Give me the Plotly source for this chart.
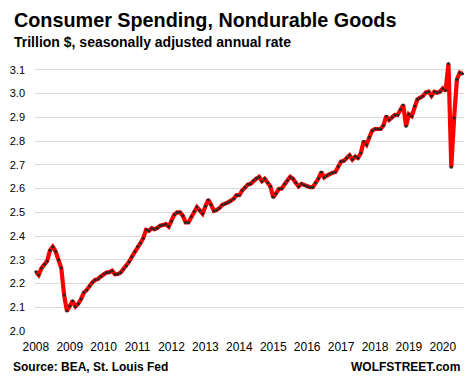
import pandas as pd
import plotly.graph_objects as go

# Monthly values, trillion $ (SAAR), Jan 2008 - Aug 2020
v2008 = [2.250, 2.236, 2.265, 2.280, 2.295, 2.339, 2.355, 2.335, 2.300, 2.265, 2.152, 2.084]
v2009 = [2.105, 2.127, 2.103, 2.115, 2.135, 2.162, 2.173, 2.190, 2.205, 2.215, 2.219, 2.230]
v2010 = [2.240, 2.246, 2.248, 2.254, 2.239, 2.240, 2.246, 2.260, 2.274, 2.292, 2.313, 2.335]
v2011 = [2.356, 2.370, 2.391, 2.426, 2.422, 2.433, 2.429, 2.434, 2.444, 2.447, 2.450, 2.440]
v2012 = [2.463, 2.490, 2.500, 2.500, 2.486, 2.457, 2.457, 2.482, 2.503, 2.522, 2.508, 2.494]
v2013 = [2.525, 2.553, 2.532, 2.506, 2.510, 2.518, 2.532, 2.536, 2.542, 2.549, 2.557, 2.572]
v2014 = [2.572, 2.592, 2.605, 2.617, 2.620, 2.634, 2.642, 2.649, 2.631, 2.641, 2.624, 2.609]
v2015 = [2.563, 2.578, 2.598, 2.600, 2.620, 2.634, 2.649, 2.641, 2.624, 2.609, 2.620, 2.614]
v2016 = [2.609, 2.606, 2.606, 2.624, 2.642, 2.670, 2.647, 2.655, 2.662, 2.667, 2.670, 2.693]
v2017 = [2.714, 2.717, 2.729, 2.740, 2.722, 2.735, 2.729, 2.750, 2.799, 2.785, 2.816, 2.844]
v2018 = [2.851, 2.851, 2.851, 2.866, 2.905, 2.889, 2.899, 2.910, 2.910, 2.934, 2.952, 2.863]
v2019 = [2.913, 2.905, 2.948, 2.976, 2.983, 2.990, 3.005, 3.008, 2.990, 3.008, 3.004, 3.008]
v2020 = [3.022, 3.013, 3.127, 2.690, 2.897, 3.060, 3.088, 3.084]

values = (v2008 + v2009 + v2010 + v2011 + v2012 + v2013 + v2014 +
          v2015 + v2016 + v2017 + v2018 + v2019 + v2020)
months = [d.strftime("%Y-%m") for d in pd.date_range("2008-01-01", periods=len(values), freq="MS")]

year_ticks = [str(y) for y in range(2008, 2021)]
y_ticks = [2.0, 2.1, 2.2, 2.3, 2.4, 2.5, 2.6, 2.7, 2.8, 2.9, 3.0, 3.1]

FONT = "Liberation Sans, Arial, sans-serif"

fig = go.Figure()
fig.add_trace(go.Scatter(
    x=months, y=values, mode="lines+markers",
    line=dict(color="#ff0000", width=4.2),
    marker=dict(color="#262626", size=3),
    cliponaxis=False, hoverinfo="x+y",
))

# page body has an 8px default margin, so the figure is 8px smaller than the window
fig.update_layout(
    width=465, height=372,
    margin=dict(l=27, r=9, t=50, b=49),
    paper_bgcolor="white", plot_bgcolor="white",
    showlegend=False,
    font=dict(family=FONT, color="#000000", size=12),
    xaxis=dict(
        type="category",
        range=[-0.3, len(values) - 0.5],
        tickmode="array",
        tickvals=[f"{y}-01" for y in year_ticks],
        ticktext=year_ticks,
        showgrid=False, zeroline=False, showline=False,
        ticks="outside", ticklen=5, tickcolor="rgba(0,0,0,0)",
        tickfont=dict(size=12, family=FONT, color="#000000"),
        automargin=False,
    ),
    yaxis=dict(
        range=[2.0, 3.15],
        tickmode="array",
        tickvals=y_ticks,
        ticktext=[f"{t:.1f}" for t in y_ticks],
        showgrid=True, gridcolor="#d9d9d9", gridwidth=1,
        zeroline=False, showline=False,
        ticklabelstandoff=9,
        tickfont=dict(size=11, family=FONT, color="#000000"),
        automargin=False,
    ),
    annotations=[
        dict(text="<b>Consumer Spending, Nondurable Goods</b>", xref="paper", yref="paper",
             x=-0.054, y=1.141, xanchor="left", yanchor="middle", showarrow=False,
             font=dict(size=19.8, family=FONT, color="#000000")),
        dict(text="<b>Trillion $, seasonally adjusted annual rate</b>", xref="paper", yref="paper",
             x=-0.054, y=1.057, xanchor="left", yanchor="middle", showarrow=False,
             font=dict(size=14, family=FONT, color="#000000")),
        dict(text="<b>Source: BEA, St. Louis Fed</b>", xref="paper", yref="paper",
             x=-0.056, y=-0.132, xanchor="left", yanchor="middle", showarrow=False,
             font=dict(size=12, family=FONT, color="#000000")),
        dict(text="<b>WOLFSTREET.com</b>", xref="paper", yref="paper",
             x=0.995, y=-0.132, xanchor="right", yanchor="middle", showarrow=False,
             font=dict(size=12, family=FONT, color="#000000")),
    ],
)

fig.write_html("out.html")
